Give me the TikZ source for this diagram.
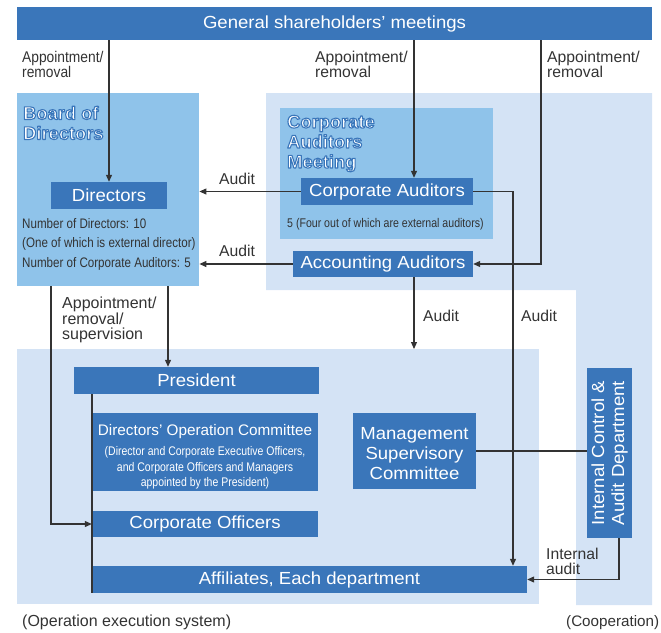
\documentclass[tikz,border=0pt]{standalone}
\usepackage{fontspec}
\setmainfont{Liberation Sans}
\newfontfamily\nodefont[FakeStretch=1.06]{Liberation Sans}
\newfontfamily\narrowfont[FakeStretch=0.84]{Liberation Sans}
\newfontfamily\condfont[FakeStretch=0.89]{Liberation Sans}
\usetikzlibrary{arrows.meta}
\definecolor{dkblue}{HTML}{3A76BA}
\definecolor{midblue}{HTML}{8FC3EA}
\definecolor{paleblue}{HTML}{D4E3F5}
\definecolor{linegray}{HTML}{333333}
\newcommand\smline[1]{{\narrowfont\fontsize{12.5}{15.5}\selectfont #1}}
\newcommand\ttl[1]{\special{pdf:literal direct 0.227 0.463 0.729 RG 1.1 w 1 j 2 Tr}#1\special{pdf:literal direct 0 Tr}}
\tikzset{
  box/.style={fill=dkblue, text=white, inner sep=0pt, align=center,
    font=\nodefont\fontsize{17.5}{20}\selectfont},
  lbl/.style={text=linegray, inner sep=0pt, align=left,
    font=\fontsize{15.7}{15}\selectfont},
  note/.style={text=linegray, inner sep=0pt, align=left,
    font=\narrowfont\fontsize{13.8}{19.5}\selectfont},
  ttlnode/.style={text=white, inner sep=0pt, align=left,
    font=\bfseries\fontsize{18.3}{20}\selectfont},
  arr/.style={draw=linegray, line width=1.1pt, -{Triangle[length=7pt,width=6pt]}},
  ln/.style={draw=linegray, line width=1.1pt},
}
\begin{document}
\begin{tikzpicture}[x=1pt,y=-1pt]
\useasboundingbox (0,0) rectangle (661,632);
% regions
\fill[paleblue] (266,93) -- (652,93) -- (652,605) -- (576,605) -- (576,290) -- (266,290) -- cycle;
\node[fill=paleblue, inner sep=0pt, minimum width=522, minimum height=255, anchor=north west] (lower) at (17,349) {};
\node[fill=midblue, inner sep=0pt, minimum width=182, minimum height=193, anchor=north west] (board) at (17,93) {};
\node[fill=midblue, inner sep=0pt, minimum width=213, minimum height=131, anchor=north west] (cam) at (280,108) {};
% titles
\node[ttlnode, anchor=north west] (boardttl) at (23,106) {\ttl{Board of}\\\ttl{Directors}};
\node[ttlnode, anchor=north west] (camttl) at (287,115) {\ttl{Corporate}\\\ttl{Auditors}\\\ttl{Meeting}};
% boxes
\node[box, minimum width=635, minimum height=33] (gsm) at (334.5,23.5) {General shareholders’ meetings};
\node[box, minimum width=116, minimum height=27] (dir) at (109,195.5) {Directors};
\node[box, minimum width=172, minimum height=27] (ca) at (387,191.5) {Corporate Auditors};
\node[box, minimum width=180, minimum height=26] (aa) at (383,264) {Accounting Auditors};
\node[box, minimum width=245, minimum height=27] (pres) at (196.5,380.5) {President};
\node[box, minimum width=226, minimum height=78, font=\fontsize{15.3}{15.5}\selectfont] (doc) at (205,452) {\rule{0pt}{21pt}Directors’ Operation Committee\\[5pt]\smline{(Director and Corporate Executive Officers,}\\\smline{and Corporate Officers and Managers}\\\smline{appointed by the President)}};
\node[box, minimum width=226, minimum height=26] (co) at (205,524) {Corporate Officers};
\node[box, minimum width=435, minimum height=27] (aff) at (309.5,579.5) {Affiliates, Each department};
\node[box, minimum width=123, minimum height=76] (msc) at (414.5,451) {\rule{0pt}{18pt}Management\\Supervisory\\Committee};
\node[box, rotate=90, minimum width=170, minimum height=45] (icad) at (609.5,453) {Internal Control \&\\Audit Department};
% notes
\node[note, anchor=north west] (dirnote) at (22,218) {Number of Directors: 10\\(One of which is external director)\\Number of Corporate Auditors: 5};
\node[note, anchor=north west, font=\narrowfont\fontsize{12.6}{15}\selectfont] (canote) at (287,218) {5 (Four out of which are external auditors)};
% labels
\node[lbl, anchor=north west, font=\condfont\fontsize{15.5}{15}\selectfont] (l1) at (22,51) {Appointment/\\removal};
\node[lbl, anchor=north west] (l2) at (315,51) {Appointment/\\removal};
\node[lbl, anchor=north west] (l3) at (547,51) {Appointment/\\removal};
\node[lbl, anchor=south] (l4) at (237,185) {Audit};
\node[lbl, anchor=south] (l5) at (237,257) {Audit};
\node[lbl, anchor=north west, font=\fontsize{16}{15.5}\selectfont] (l6) at (62,297) {Appointment/\\removal/\\supervision};
\node[lbl, anchor=north west] (l7) at (423,310) {Audit};
\node[lbl, anchor=north west] (l8) at (521,310) {Audit};
\node[lbl, anchor=north west] (l9) at (546,548) {Internal\\audit};
\node[lbl, anchor=north west, font=\fontsize{16}{16}\selectfont] (l10) at (22,615) {(Operation execution system)};
\node[lbl, anchor=north west, font=\fontsize{15.2}{16}\selectfont] (l11) at (566,615) {(Cooperation)};
% connectors
\coordinate (xa) at (414,0);
\coordinate (xb) at (541,0);
\coordinate (xc) at (513,0);
\coordinate (xd) at (51,0);
\coordinate (xe) at (168,0);
\coordinate (xf) at (92,0);
\coordinate (xg) at (619,0);
\draw[arr] (gsm.south -| dir.north) -- (dir.north);
\draw[arr] (gsm.south -| xa) -- (ca.north -| xa);
\draw[arr] (gsm.south -| xb) -- (aa.east -| xb) -- (aa.east);
\draw[arr] (ca.west) -- (ca.west -| board.east);
\draw[arr] (aa.west) -- (aa.west -| board.east);
\draw[arr] (ca.east) -- (ca.east -| xc) -- (aff.north -| xc);
\draw[arr] (aa.south -| xa) -- (lower.north -| xa);
\draw[arr] (board.south -| xd) -- (co.west -| xd) -- (co.west);
\draw[arr] (board.south -| xe) -- (pres.north -| xe);
\draw[ln] (pres.south -| xf) -- (aff.south -| xf);
\draw[ln] (msc.east) -- (msc.east -| icad.north);
\draw[arr] (icad.west -| xg) -- (aff.east -| xg) -- (aff.east);
\end{tikzpicture}
\end{document}
